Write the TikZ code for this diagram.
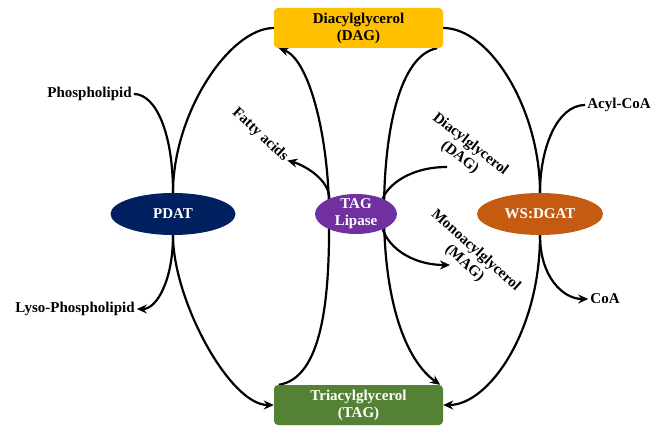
\documentclass[tikz,border=0pt]{standalone}
\usepackage{fontspec}
\setmainfont{Liberation Serif}
\usetikzlibrary{arrows.meta,shapes.geometric,backgrounds}
\definecolor{dagyellow}{HTML}{FFC000}
\definecolor{taggreen}{HTML}{548235}
\definecolor{pdatblue}{HTML}{002060}
\definecolor{lippurple}{HTML}{7030A0}
\definecolor{wsorange}{HTML}{C55A11}
\begin{document}
\begin{tikzpicture}[x=1pt,y=-1pt,
		txt/.style={font=\fontsize{15}{17}\selectfont\bfseries,inner sep=2pt},
		box/.style={txt,rectangle,rounded corners=4pt,minimum width=169pt,minimum height=40pt,align=center},
		enz/.style={txt,ellipse,text=white,inner sep=0pt,align=center},
		link/.style={line width=2.2pt},
		arr/.style={link,-{Stealth[length=10pt,width=9pt]}}]
	\useasboundingbox (0,0) rectangle (652,427);
	% products and enzymes
	\node[box,fill=dagyellow] (dag) at (358.5,28) {Diacylglycerol\\(DAG)};
	\node[box,fill=taggreen,text=white] (tag) at (358.5,405) {Triacylglycerol\\(TAG)};
	\node[enz,fill=pdatblue,minimum width=125pt,minimum height=42pt] (pdat) at (173,214) {PDAT};
	\node[enz,fill=lippurple,minimum width=82pt,minimum height=40pt,inner sep=-3pt] (lip) at (356,214) {TAG\\Lipase};
	\node[enz,fill=wsorange,minimum width=126pt,minimum height=42pt] (ws) at (540,214) {WS:DGAT};
	% substrates
	\node[txt] (phos) at (89.5,94) {Phospholipid};
	\node[txt] (lyso) at (75,309) {Lyso-Phospholipid};
	\node[txt] (acyl) at (619,105) {Acyl-CoA};
	\node[txt] (coa) at (605,299) {CoA};
	\node[txt,rotate=-43] (fatty) at (260,135) {Fatty acids};
	\node[txt,rotate=-38,align=center] (dagin) at (465,151) {Diacylglycerol\\(DAG)};
	\node[txt,rotate=-42,align=center] (magout) at (470,257) {Monoacylglycerol\\(MAG)};
	\coordinate (lipL) at (329,214);
	\coordinate (lipR) at (384,212);
	\coordinate (dagsrc) at (447,167);
	\coordinate (magend) at (450,265);
	\begin{scope}[on background layer]
		\draw[arr] (dag.west) .. controls +(-44,0) and +(0,-80) .. (pdat.north) -- (pdat.south) .. controls +(0,65) and +(-44,0) .. (tag.west);
		\draw[link] (phos.east) .. controls +(22,0) and +(0,-60) .. (pdat.north);
		\draw[arr] (pdat.south) .. controls +(0,45) and +(20,0) .. (lyso.east);
		\draw[arr] ([xshift=5pt]tag.north west) .. controls (322,378) and (330,300) .. (lipL) .. controls (329,140) and (310,60) .. ([xshift=5pt]dag.south west);
		\draw[arr] ([xshift=-6pt]dag.south east) .. controls (400,55) and (384,130) .. (lipR) .. controls (384,300) and (405,360) .. ([xshift=-3pt]tag.north east);
		\draw[arr] (dag.east) .. controls +(47,0) and +(0,-83) .. (ws.north) -- (ws.south) .. controls +(0,97) and +(45,0) .. (tag.east);
		\draw[link] (acyl.west) .. controls +(-28,0) and +(0,-45) .. (ws.north);
		\draw[arr] (ws.south) .. controls +(0,42) and +(-25,0) .. (coa.west);
		\draw[arr] (lip.150) .. controls +(0,-20) and +(15,4) .. (fatty.east);
		\draw[link] (dagsrc) .. controls (410,167) and (388,185) .. (lip.30);
		\draw[arr] (lip.-30) .. controls (390,250) and (415,265) .. (magend);
	\end{scope}
\end{tikzpicture}
\end{document}
